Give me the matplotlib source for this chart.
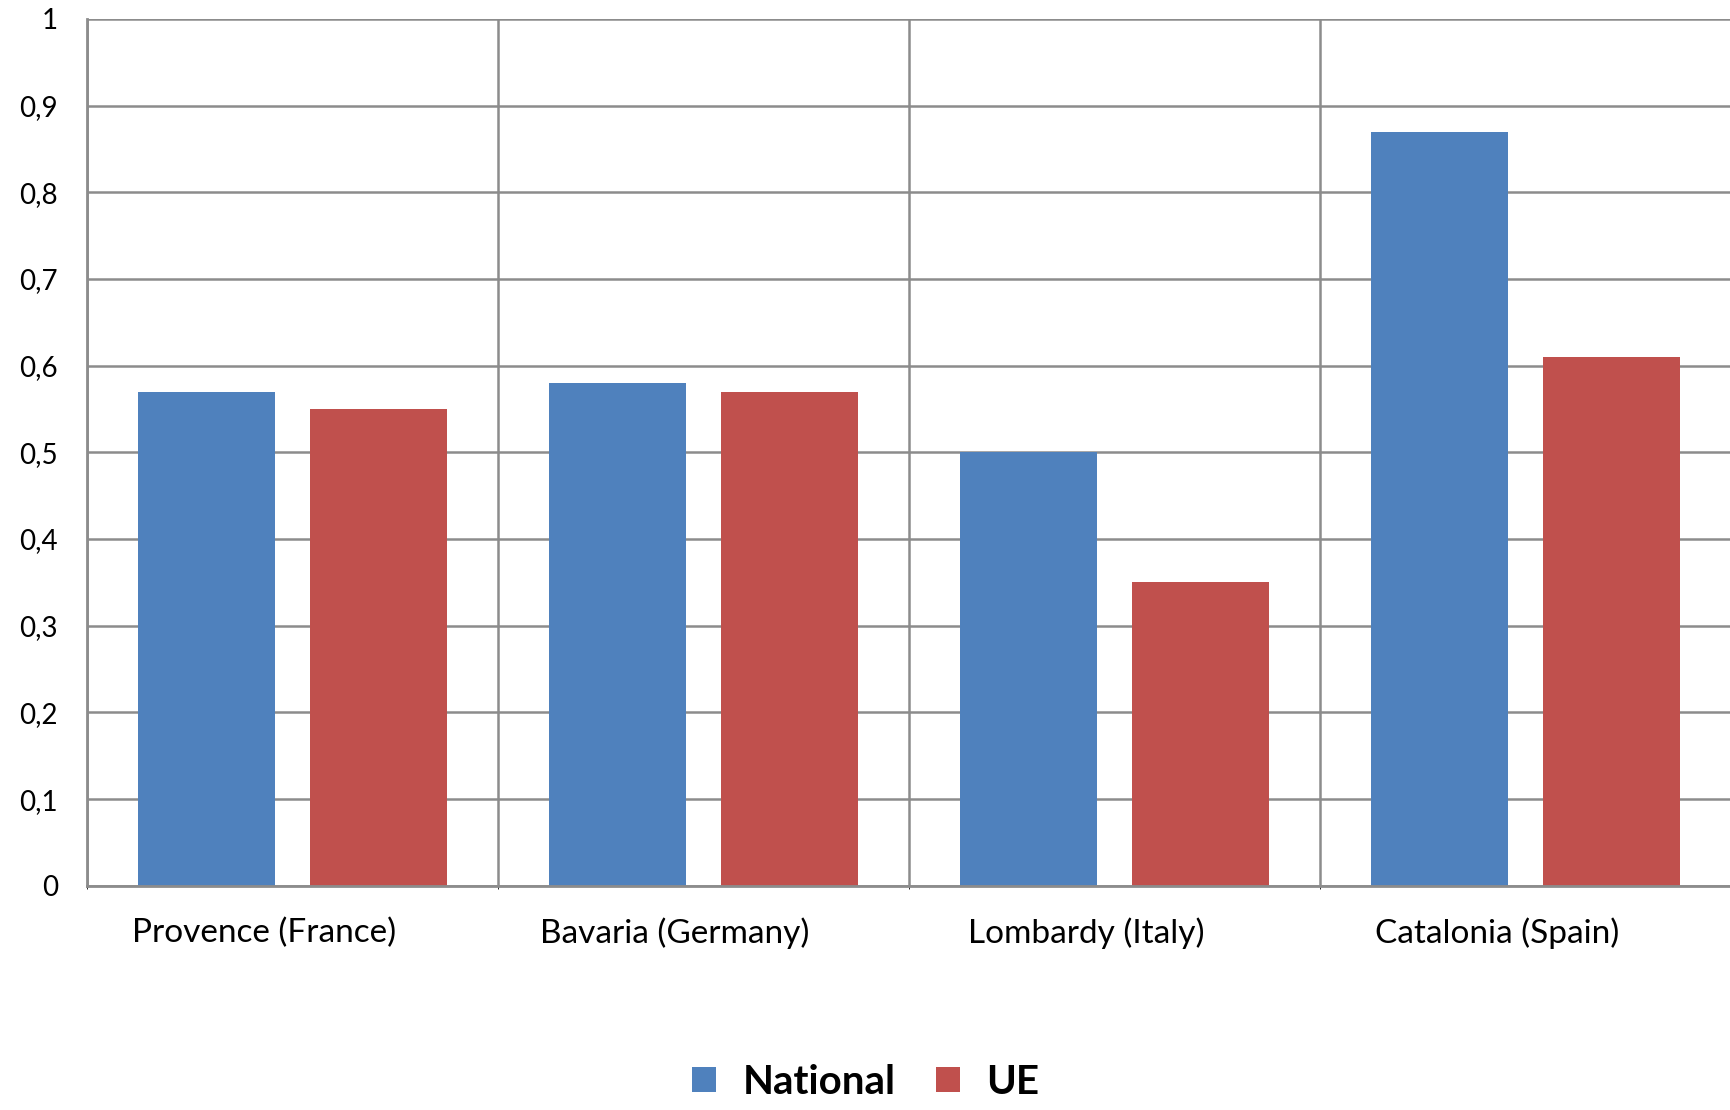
import matplotlib.pyplot as plt
import numpy as np

regions = ["Provence (France)", "Bavaria (Germany)", "Lombardy (Italy)", "Catalonia (Spain)"]
national = [0.57, 0.58, 0.50, 0.87]
ue = [0.55, 0.57, 0.35, 0.61]

plt.rcParams['font.family'] = ['Lato', 'DejaVu Sans']

fig = plt.figure(figsize=(17.31, 11.10), dpi=100)
ax = fig.add_axes([0.0503, 0.202, 0.9497, 0.781])

x = np.arange(len(regions))
w = 0.333
ax.bar(x + 0.5 - 0.209, national, w, color="#4f81bd", label="National", zorder=3)
ax.bar(x + 0.5 + 0.209, ue, w, color="#c0504d", label="UE", zorder=3)

ax.set_xlim(0, len(regions))
ax.set_ylim(0, 1)
ax.set_yticks(np.arange(0, 1.01, 0.1))
ax.set_yticklabels(["0"] + ["0,%d" % i for i in range(1, 10)] + ["1"], fontsize=20)
ax.set_xticks(x + 0.43)
ax.set_xticklabels(regions, fontsize=24)
ax.tick_params(length=0, pad=21, axis="y")
ax.tick_params(length=0, pad=23, axis="x")

ax.set_xticks(np.arange(len(regions) + 1), minor=True)
ax.grid(True, axis="y", color="#8c8c8c", lw=1.8, zorder=0)
ax.grid(True, axis="x", which="minor", color="#8c8c8c", lw=1.8, zorder=0)

for s in ["top", "right"]:
    ax.spines[s].set_visible(False)
for s in ["left", "bottom"]:
    ax.spines[s].set_color("#8c8c8c")
    ax.spines[s].set_linewidth(2)
    ax.spines[s].set_zorder(4)

fig.legend(loc="lower center", bbox_to_anchor=(0.5, -0.006), ncol=2, frameon=False,
           prop={"size": 29, "weight": "bold"}, handlelength=0.6, handleheight=0.6,
           columnspacing=1.0, handletextpad=0.65, borderaxespad=0)

plt.savefig("out.png")
